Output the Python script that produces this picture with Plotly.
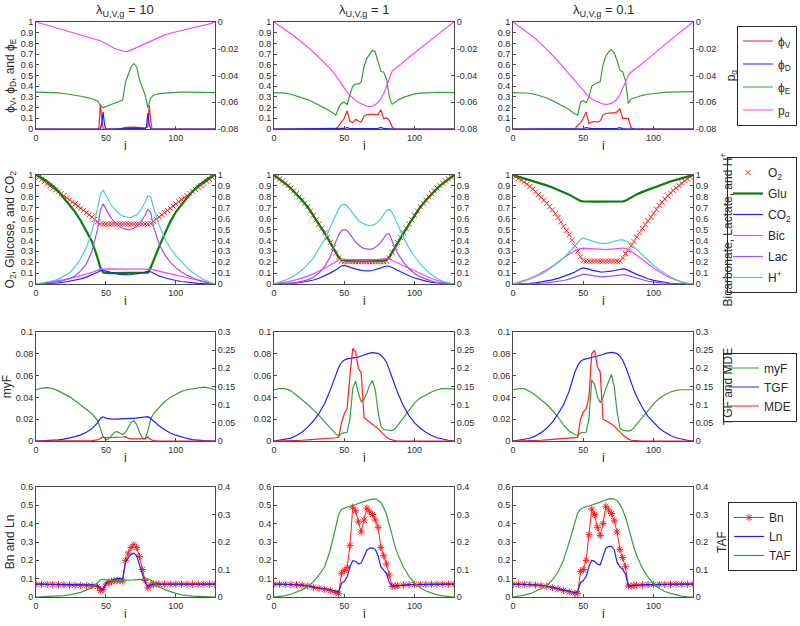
import plotly.graph_objects as go

# ------------------------------------------------------------------ data
X = [0, 4, 8, 12, 16, 20, 24, 28, 32, 36, 40, 44,
     46, 48, 50, 52, 54, 56, 58, 60, 62, 64, 66, 68, 70, 72, 74, 76, 78, 80, 82, 84, 86, 88,
     92, 96, 100, 104, 108, 112, 116, 120, 124, 128]
X2 = [0, 2, 4, 6, 8, 10, 12, 14, 16, 18, 20, 22, 24, 26, 28, 30, 32, 34, 36, 38, 40, 42, 44,
      46, 48, 50, 52, 54, 56, 58, 60, 62, 64, 66, 68, 70, 72, 74, 76, 78, 80,
      82, 84, 86, 88, 90, 92, 94, 96, 98, 100, 102, 104, 106, 108, 110, 112, 114, 116, 118, 120, 122, 124, 126, 128]

# row 1 : phi_V, phi_D, phi_E (left)  p_alpha (right)
phiV1_x = [0, 44, 45, 46, 47, 48, 50, 60, 62, 64, 70, 76, 78, 80, 81, 82, 83, 86, 128]
phiV1 = [0, 0, 0.01, 0.23, 0.1, 0, 0, 0, 0.008, 0.015, 0.018, 0.015, 0.008, 0.02, 0.22, 0.08, 0, 0, 0]
phiD1_x = [0, 46, 47, 48, 49, 50, 52, 60, 64, 70, 76, 78, 79, 80, 81, 82, 128]
phiD1 = [0, 0, 0.05, 0.16, 0.04, 0, 0, 0.004, 0.008, 0.01, 0.008, 0.004, 0.02, 0.15, 0.04, 0, 0]
phiE1 = [0.345, 0.345, 0.344, 0.342, 0.338, 0.332, 0.325, 0.316, 0.306, 0.296, 0.283, 0.262,
         0.22, 0.2, 0.21, 0.215, 0.23, 0.24, 0.245, 0.255, 0.27, 0.44, 0.52, 0.58, 0.61, 0.58, 0.46, 0.39, 0.32, 0.2, 0.29, 0.315, 0.325, 0.33,
         0.335, 0.34, 0.342, 0.344, 0.345, 0.345, 0.345, 0.345, 0.343, 0.34]
pa1 = [0, -0.0012, -0.0024, -0.0036, -0.0048, -0.006, -0.0072, -0.0084, -0.0096, -0.0108, -0.012, -0.0132,
       -0.014, -0.0152, -0.0164, -0.0176, -0.0188, -0.0196, -0.0204, -0.0212, -0.0218, -0.022, -0.0218, -0.021, -0.02, -0.019, -0.018, -0.017, -0.016, -0.015, -0.014, -0.013, -0.012, -0.011,
       -0.0096, -0.0084, -0.0074, -0.0064, -0.0056, -0.0048, -0.0038, -0.0028, -0.0014, 0]

phiV2 = [0, 0, 0, 0, 0, 0, 0, 0, 0, 0, 0, 0,
         0.03, 0.06, 0.1, 0.17, 0.07, 0.06, 0.09, 0.075, 0.065, 0.12, 0.135, 0.135, 0.14, 0.135, 0.135, 0.18, 0.095, 0.105, 0.08, 0.02, 0, 0,
         0, 0, 0, 0, 0, 0, 0, 0, 0, 0]
phiD2 = [0, 0, 0, 0, 0, 0, 0, 0, 0, 0, 0, 0,
         0, 0.002, 0.005, 0.012, 0.004, 0.004, 0.004, 0.004, 0.004, 0.004, 0.004, 0.004, 0.004, 0.004, 0.006, 0.015, 0.004, 0.003, 0, 0, 0, 0,
         0, 0, 0, 0, 0, 0, 0, 0, 0, 0]
phiE2 = [0.34, 0.34, 0.335, 0.325, 0.31, 0.295, 0.275, 0.25, 0.225, 0.195, 0.165, 0.13,
         0.2, 0.24, 0.25, 0.23, 0.32, 0.4, 0.42, 0.42, 0.44, 0.58, 0.66, 0.7, 0.735, 0.72, 0.64, 0.54, 0.53, 0.47, 0.3, 0.23, 0.25, 0.27,
         0.295, 0.315, 0.328, 0.335, 0.34, 0.342, 0.343, 0.343, 0.342, 0.34]
pa2 = [0, -0.0028, -0.0058, -0.0088, -0.012, -0.0152, -0.0188, -0.0224, -0.0264, -0.0304, -0.0348, -0.04,
       -0.0432, -0.0464, -0.0496, -0.0524, -0.0548, -0.0568, -0.0586, -0.06, -0.0612, -0.0622, -0.063, -0.0632, -0.0628, -0.0618, -0.06, -0.0572, -0.0536, -0.048, -0.0416, -0.0368, -0.0352, -0.0336,
       -0.03, -0.0264, -0.0232, -0.0198, -0.0165, -0.0131, -0.0098, -0.0064, -0.0032, 0]

phiV3 = [0, 0, 0, 0, 0, 0, 0, 0, 0, 0, 0, 0,
         0.035, 0.055, 0.1, 0.16, 0.05, 0.065, 0.07, 0.065, 0.075, 0.13, 0.145, 0.15, 0.15, 0.15, 0.16, 0.19, 0.1, 0.1, 0.1, 0.01, 0, 0,
         0, 0, 0, 0, 0, 0, 0, 0, 0, 0]
phiD3 = [0, 0, 0, 0, 0, 0, 0, 0, 0, 0, 0, 0,
         0, 0.002, 0.004, 0.012, 0.004, 0.003, 0.003, 0.003, 0.003, 0.003, 0.003, 0.003, 0.003, 0.003, 0.006, 0.012, 0.003, 0.002, 0, 0, 0, 0,
         0, 0, 0, 0, 0, 0, 0, 0, 0, 0]
phiE3 = [0.34, 0.34, 0.338, 0.334, 0.322, 0.305, 0.29, 0.265, 0.24, 0.21, 0.18, 0.14,
         0.13, 0.25, 0.265, 0.245, 0.3, 0.4, 0.42, 0.43, 0.44, 0.6, 0.68, 0.72, 0.74, 0.71, 0.64, 0.55, 0.535, 0.45, 0.24, 0.28, 0.29, 0.3,
         0.315, 0.325, 0.332, 0.338, 0.342, 0.344, 0.346, 0.347, 0.348, 0.35]
pa3 = [0, -0.003, -0.0059, -0.0088, -0.0124, -0.0164, -0.0204, -0.0248, -0.0292, -0.034, -0.0392, -0.044,
       -0.0468, -0.0492, -0.0516, -0.054, -0.056, -0.0576, -0.0588, -0.0598, -0.0606, -0.0612, -0.0616, -0.0614, -0.0608, -0.0596, -0.0576, -0.0544, -0.05, -0.0448, -0.0396, -0.0372, -0.0356, -0.0344,
       -0.0312, -0.0276, -0.024, -0.0204, -0.0168, -0.0132, -0.01, -0.0068, -0.0034, 0]

# row 2 : O2 (left, on X2), Glu, CO2 (left)  Bic, Lac, H+ (right)
O2_1 = [1.0, 0.98, 0.96, 0.94, 0.92, 0.9, 0.88, 0.862, 0.845, 0.828, 0.81, 0.79, 0.77, 0.752, 0.735, 0.715, 0.695, 0.675, 0.655, 0.635, 0.615, 0.592, 0.57,
        0.55, 0.55, 0.55, 0.55, 0.55, 0.55, 0.55, 0.55, 0.55, 0.55, 0.55, 0.55, 0.55, 0.55, 0.55, 0.55, 0.55, 0.55,
        0.555, 0.575, 0.595, 0.615, 0.635, 0.655, 0.675, 0.695, 0.715, 0.735, 0.755, 0.775, 0.792, 0.81, 0.83, 0.85, 0.868, 0.885, 0.905, 0.925, 0.942, 0.96, 0.98, 1.0]
O2_2 = [1.0, 0.983, 0.965, 0.945, 0.925, 0.903, 0.88, 0.856, 0.83, 0.8, 0.77, 0.74, 0.71, 0.67, 0.63, 0.59, 0.55, 0.51, 0.47, 0.425, 0.38, 0.332, 0.285, 0.24, 0.21,
        0.205, 0.205, 0.205, 0.205, 0.205, 0.205, 0.205, 0.205, 0.205, 0.205, 0.205, 0.205, 0.205, 0.205, 0.205,
        0.21, 0.24, 0.29, 0.335, 0.38, 0.425, 0.47, 0.51, 0.55, 0.59, 0.63, 0.67, 0.71, 0.74, 0.77, 0.8, 0.83, 0.856, 0.88, 0.903, 0.925, 0.945, 0.965, 0.983, 1.0]
O2_3 = [1.0, 0.985, 0.97, 0.953, 0.935, 0.915, 0.895, 0.87, 0.845, 0.82, 0.795, 0.768, 0.74, 0.71, 0.68, 0.645, 0.61, 0.57, 0.53, 0.49, 0.45, 0.4, 0.35, 0.3, 0.25, 0.215,
        0.21, 0.21, 0.21, 0.21, 0.21, 0.21, 0.21, 0.21, 0.21, 0.21, 0.21, 0.21, 0.21,
        0.24, 0.28, 0.31, 0.35, 0.39, 0.43, 0.47, 0.51, 0.545, 0.58, 0.615, 0.65, 0.685, 0.72, 0.75, 0.78, 0.808, 0.835, 0.858, 0.88, 0.903, 0.925, 0.945, 0.965, 0.983, 1.0]

Glu_1 = [1.0, 0.975, 0.94, 0.9, 0.85, 0.79, 0.73, 0.66, 0.58, 0.49, 0.39, 0.24,
         0.15, 0.105, 0.1, 0.1, 0.1, 0.1, 0.1, 0.1, 0.1, 0.1, 0.1, 0.1, 0.1, 0.1, 0.1, 0.1, 0.1, 0.105, 0.15, 0.22, 0.28, 0.34,
         0.46, 0.57, 0.66, 0.73, 0.79, 0.85, 0.9, 0.94, 0.975, 1.0]
CO2_1 = [0, 0.001, 0.003, 0.006, 0.01, 0.016, 0.024, 0.034, 0.047, 0.063, 0.083, 0.108,
         0.122, 0.124, 0.118, 0.11, 0.103, 0.097, 0.092, 0.088, 0.086, 0.085, 0.085, 0.087, 0.089, 0.093, 0.097, 0.103, 0.109, 0.115, 0.112, 0.098, 0.085, 0.074,
         0.057, 0.043, 0.032, 0.023, 0.016, 0.01, 0.006, 0.003, 0.001, 0]
Bic_1 = [0, 0.007, 0.014, 0.022, 0.03, 0.04, 0.05, 0.062, 0.075, 0.09, 0.107, 0.127,
         0.136, 0.139, 0.138, 0.137, 0.137, 0.137, 0.137, 0.137, 0.137, 0.137, 0.137, 0.137, 0.137, 0.137, 0.137, 0.137, 0.137, 0.138, 0.136, 0.13, 0.124, 0.118,
         0.106, 0.094, 0.082, 0.07, 0.058, 0.046, 0.034, 0.022, 0.011, 0]
Lac_1 = [0, 0.004, 0.008, 0.014, 0.022, 0.033, 0.05, 0.075, 0.12, 0.185, 0.3, 0.5,
         0.68, 0.735, 0.69, 0.64, 0.6, 0.57, 0.545, 0.525, 0.51, 0.5, 0.497, 0.5, 0.51, 0.525, 0.55, 0.585, 0.63, 0.685, 0.66, 0.53, 0.44, 0.37,
         0.27, 0.2, 0.15, 0.11, 0.08, 0.055, 0.035, 0.02, 0.008, 0]
H_1 = [0, 0.008, 0.016, 0.028, 0.045, 0.07, 0.1, 0.16, 0.235, 0.33, 0.48, 0.69,
       0.82, 0.86, 0.81, 0.76, 0.72, 0.69, 0.66, 0.64, 0.625, 0.615, 0.61, 0.612, 0.62, 0.635, 0.66, 0.7, 0.75, 0.81, 0.8, 0.7, 0.61, 0.54,
       0.42, 0.33, 0.26, 0.2, 0.15, 0.105, 0.07, 0.04, 0.018, 0]

Glu_2 = [1.0, 0.963, 0.922, 0.877, 0.827, 0.768, 0.706, 0.628, 0.548, 0.468, 0.378, 0.285,
         0.245, 0.222, 0.215, 0.215, 0.215, 0.215, 0.215, 0.215, 0.215, 0.215, 0.215, 0.215, 0.215, 0.215, 0.215, 0.215, 0.215, 0.222, 0.245, 0.29, 0.335, 0.378,
         0.468, 0.548, 0.628, 0.706, 0.768, 0.827, 0.877, 0.922, 0.963, 1.0]
CO2_2 = [0, 0.001, 0.003, 0.006, 0.01, 0.016, 0.025, 0.037, 0.053, 0.075, 0.1, 0.13,
         0.15, 0.165, 0.17, 0.165, 0.155, 0.145, 0.137, 0.13, 0.125, 0.122, 0.12, 0.121, 0.124, 0.13, 0.138, 0.148, 0.158, 0.165, 0.163, 0.15, 0.137, 0.123,
         0.098, 0.075, 0.055, 0.039, 0.026, 0.016, 0.009, 0.004, 0.001, 0]
Bic_2 = [0, 0.008, 0.017, 0.027, 0.04, 0.055, 0.072, 0.093, 0.117, 0.145, 0.175, 0.205,
         0.218, 0.227, 0.228, 0.226, 0.223, 0.221, 0.22, 0.219, 0.218, 0.218, 0.218, 0.219, 0.22, 0.222, 0.224, 0.227, 0.23, 0.232, 0.228, 0.215, 0.203, 0.19,
         0.165, 0.14, 0.115, 0.092, 0.07, 0.05, 0.033, 0.018, 0.007, 0]
Lac_2 = [0, 0.001, 0.003, 0.006, 0.012, 0.022, 0.038, 0.062, 0.1, 0.16, 0.25, 0.39,
         0.45, 0.49, 0.5, 0.49, 0.46, 0.42, 0.385, 0.36, 0.34, 0.325, 0.318, 0.317, 0.322, 0.335, 0.355, 0.385, 0.42, 0.455, 0.46, 0.39, 0.33, 0.28,
         0.2, 0.14, 0.095, 0.065, 0.042, 0.026, 0.014, 0.006, 0.002, 0]
H_2 = [0, 0.015, 0.035, 0.06, 0.09, 0.13, 0.18, 0.24, 0.32, 0.41, 0.52, 0.64,
       0.69, 0.725, 0.73, 0.715, 0.68, 0.645, 0.61, 0.585, 0.565, 0.55, 0.54, 0.537, 0.54, 0.55, 0.57, 0.6, 0.64, 0.675, 0.685, 0.655, 0.6, 0.54,
       0.43, 0.33, 0.25, 0.185, 0.13, 0.085, 0.05, 0.025, 0.009, 0]

Glu_3 = [1.0, 0.985, 0.97, 0.955, 0.94, 0.922, 0.905, 0.885, 0.865, 0.845, 0.82, 0.79,
         0.775, 0.762, 0.757, 0.755, 0.755, 0.755, 0.755, 0.755, 0.755, 0.755, 0.755, 0.755, 0.755, 0.755, 0.755, 0.755, 0.757, 0.765, 0.78, 0.795, 0.81, 0.822,
         0.845, 0.865, 0.885, 0.905, 0.922, 0.94, 0.955, 0.97, 0.985, 1.0]
CO2_3 = [0, 0.001, 0.003, 0.006, 0.011, 0.018, 0.027, 0.038, 0.052, 0.068, 0.088, 0.11,
         0.125, 0.14, 0.147, 0.144, 0.137, 0.128, 0.12, 0.115, 0.111, 0.11, 0.111, 0.114, 0.118, 0.124, 0.13, 0.136, 0.139, 0.136, 0.126, 0.113, 0.1, 0.088,
         0.066, 0.048, 0.033, 0.022, 0.013, 0.007, 0.003, 0.001, 0, 0]
Bic_3 = [0, 0.015, 0.032, 0.05, 0.073, 0.1, 0.13, 0.163, 0.2, 0.24, 0.275, 0.305,
         0.318, 0.327, 0.33, 0.328, 0.325, 0.322, 0.319, 0.317, 0.316, 0.315, 0.316, 0.318, 0.321, 0.325, 0.328, 0.33, 0.33, 0.325, 0.315, 0.3, 0.283, 0.265,
         0.225, 0.185, 0.145, 0.11, 0.08, 0.055, 0.033, 0.016, 0.005, 0]
Lac_3 = [0, 0.0005, 0.001, 0.002, 0.004, 0.007, 0.011, 0.016, 0.023, 0.032, 0.045, 0.065,
         0.077, 0.087, 0.09, 0.088, 0.083, 0.077, 0.072, 0.068, 0.066, 0.065, 0.066, 0.068, 0.071, 0.075, 0.079, 0.083, 0.085, 0.083, 0.076, 0.067, 0.058, 0.05,
         0.036, 0.025, 0.017, 0.011, 0.007, 0.004, 0.002, 0.001, 0, 0]
H_3 = [0, 0.012, 0.025, 0.045, 0.065, 0.09, 0.12, 0.155, 0.195, 0.24, 0.29, 0.345,
       0.38, 0.41, 0.42, 0.415, 0.405, 0.395, 0.385, 0.377, 0.372, 0.37, 0.372, 0.377, 0.385, 0.393, 0.4, 0.405, 0.405, 0.398, 0.385, 0.365, 0.34, 0.315,
       0.265, 0.215, 0.17, 0.13, 0.095, 0.065, 0.04, 0.02, 0.008, 0]

# row 3 : myF (left)  TGF, MDE (right)
myF_1 = [0.047, 0.0485, 0.049, 0.048, 0.046, 0.0435, 0.0405, 0.037, 0.033, 0.029, 0.025, 0.019,
         0.012, 0.004, 0.001, 0.002, 0.005, 0.008, 0.0085, 0.007, 0.006, 0.008, 0.012, 0.017, 0.0185, 0.015, 0.008, 0.003, 0.002, 0.009, 0.02, 0.025, 0.028, 0.031,
         0.036, 0.04, 0.043, 0.0455, 0.047, 0.048, 0.049, 0.0495, 0.0485, 0.047]
TGF_1 = [0, 0.0003, 0.001, 0.002, 0.003, 0.005, 0.008, 0.012, 0.017, 0.024, 0.034, 0.05,
         0.062, 0.066, 0.063, 0.061, 0.06, 0.06, 0.06, 0.06, 0.0605, 0.061, 0.0615, 0.062, 0.0625, 0.063, 0.064, 0.065, 0.066, 0.067, 0.062, 0.055, 0.048, 0.042,
         0.031, 0.022, 0.016, 0.011, 0.007, 0.004, 0.002, 0.001, 0.0005, 0]
MDE_1 = [0, 0.0005, 0.0005, 0.0005, 0.0005, 0.0005, 0.0005, 0.0005, 0.001, 0.001, 0.001, 0.003,
         0.008, 0.011, 0.009, 0.009, 0.009, 0.01, 0.01, 0.01, 0.011, 0.012, 0.007, 0.006, 0.006, 0.006, 0.005, 0.005, 0.006, 0.011, 0.004, 0.001, 0, 0,
         0, 0, 0, 0, 0, 0, 0, 0, 0, 0]

myF_2 = [0.047, 0.048, 0.048, 0.046, 0.042, 0.038, 0.0335, 0.0285, 0.0235, 0.0175, 0.0115, 0.0065,
         0.0045, 0.007, 0.0075, 0.008, 0.02, 0.048, 0.055, 0.044, 0.036, 0.038, 0.044, 0.051, 0.0555, 0.047, 0.027, 0.014, 0.0105, 0.0103, 0.0098, 0.0095, 0.011, 0.0145,
         0.021, 0.029, 0.035, 0.0395, 0.0425, 0.045, 0.047, 0.048, 0.048, 0.0475]
TGF_2 = [0, 0.002, 0.004, 0.008, 0.015, 0.025, 0.038, 0.055, 0.076, 0.103, 0.14, 0.183,
         0.203, 0.216, 0.223, 0.226, 0.227, 0.228, 0.229, 0.231, 0.234, 0.237, 0.24, 0.242, 0.243, 0.243, 0.241, 0.236, 0.228, 0.217, 0.198, 0.175, 0.153, 0.132,
         0.097, 0.07, 0.05, 0.035, 0.024, 0.015, 0.009, 0.005, 0.002, 0]
MDE_2 = [0, 0, 0.0005, 0.001, 0.0015, 0.002, 0.003, 0.004, 0.005, 0.006, 0.008, 0.009,
         0.011, 0.05, 0.075, 0.09, 0.18, 0.255, 0.245, 0.2, 0.188, 0.065, 0.058, 0.052, 0.047, 0.042, 0.034, 0.026, 0.017, 0.01, 0.005, 0.002, 0.001, 0,
         0, 0, 0, 0, 0, 0, 0, 0, 0, 0]

myF_3 = [0.047, 0.048, 0.048, 0.0455, 0.042, 0.038, 0.0335, 0.028, 0.022, 0.0145, 0.009, 0.006,
         0.005, 0.0075, 0.008, 0.008, 0.02, 0.056, 0.052, 0.041, 0.035, 0.04, 0.048, 0.055, 0.061, 0.05, 0.027, 0.012, 0.0098, 0.0095, 0.009, 0.01, 0.012, 0.0155,
         0.022, 0.0285, 0.034, 0.039, 0.0425, 0.045, 0.0465, 0.047, 0.047, 0.047]
TGF_3 = [0, 0.002, 0.004, 0.0075, 0.014, 0.023, 0.035, 0.052, 0.075, 0.1, 0.138, 0.19,
         0.207, 0.219, 0.224, 0.226, 0.227, 0.228, 0.23, 0.232, 0.235, 0.238, 0.241, 0.243, 0.244, 0.243, 0.24, 0.234, 0.222, 0.205, 0.182, 0.16, 0.14, 0.122,
         0.092, 0.068, 0.05, 0.035, 0.024, 0.015, 0.009, 0.005, 0.002, 0]
MDE_3 = [0, 0, 0.0005, 0.001, 0.0015, 0.002, 0.003, 0.004, 0.005, 0.006, 0.008, 0.009,
         0.01, 0.06, 0.08, 0.088, 0.12, 0.24, 0.25, 0.205, 0.19, 0.06, 0.056, 0.051, 0.047, 0.041, 0.034, 0.026, 0.017, 0.01, 0.005, 0.002, 0.001, 0,
         0, 0, 0, 0, 0, 0, 0, 0, 0, 0]

# row 4 : Bn, Ln (left)  TAF (right)
Bn_1 = [0.07, 0.07, 0.069, 0.068, 0.067, 0.066, 0.065, 0.064, 0.063, 0.062, 0.061, 0.058,
        0.035, 0.04, 0.07, 0.08, 0.085, 0.088, 0.09, 0.09, 0.087, 0.2, 0.24, 0.27, 0.285, 0.27, 0.22, 0.15, 0.09, 0.05, 0.065, 0.07, 0.07, 0.07,
        0.07, 0.07, 0.07, 0.07, 0.07, 0.07, 0.07, 0.07, 0.07, 0.07]
Ln_1 = [0.07, 0.07, 0.07, 0.069, 0.069, 0.068, 0.068, 0.067, 0.067, 0.066, 0.066, 0.064,
        0.045, 0.04, 0.075, 0.085, 0.092, 0.097, 0.1, 0.1, 0.1, 0.19, 0.215, 0.232, 0.24, 0.225, 0.18, 0.125, 0.08, 0.058, 0.068, 0.07, 0.07, 0.07,
        0.07, 0.07, 0.07, 0.07, 0.07, 0.07, 0.07, 0.07, 0.07, 0.07]
TAF_1 = [0, 0.0005, 0.001, 0.002, 0.003, 0.005, 0.008, 0.012, 0.017, 0.025, 0.035, 0.052,
         0.062, 0.064, 0.062, 0.061, 0.06, 0.06, 0.06, 0.06, 0.06, 0.061, 0.061, 0.062, 0.062, 0.063, 0.063, 0.064, 0.065, 0.066, 0.062, 0.052, 0.044, 0.037,
         0.027, 0.019, 0.013, 0.008, 0.005, 0.003, 0.002, 0.001, 0.0005, 0]

Bn_2 = [0.07, 0.07, 0.069, 0.068, 0.067, 0.065, 0.06, 0.053, 0.047, 0.042, 0.035, 0.025,
        0.018, 0.13, 0.145, 0.16, 0.28, 0.49, 0.47, 0.41, 0.355, 0.42, 0.485, 0.465, 0.45, 0.42, 0.38, 0.27, 0.225, 0.18, 0.12, 0.058, 0.06, 0.062,
        0.065, 0.067, 0.068, 0.069, 0.069, 0.07, 0.07, 0.07, 0.07, 0.07]
Ln_2 = [0.07, 0.07, 0.069, 0.068, 0.067, 0.065, 0.061, 0.056, 0.05, 0.045, 0.04, 0.032,
        0.027, 0.075, 0.085, 0.11, 0.165, 0.198, 0.195, 0.18, 0.185, 0.22, 0.255, 0.267, 0.268, 0.26, 0.225, 0.165, 0.148, 0.128, 0.08, 0.058, 0.06, 0.062,
        0.065, 0.067, 0.068, 0.069, 0.069, 0.07, 0.07, 0.07, 0.07, 0.07]
TAF_2 = [0, 0.002, 0.005, 0.01, 0.017, 0.026, 0.038, 0.055, 0.08, 0.11, 0.17, 0.26,
         0.3, 0.318, 0.324, 0.327, 0.329, 0.332, 0.335, 0.339, 0.343, 0.347, 0.351, 0.355, 0.357, 0.356, 0.352, 0.343, 0.325, 0.3, 0.265, 0.225, 0.185, 0.155,
         0.11, 0.075, 0.05, 0.034, 0.022, 0.014, 0.008, 0.004, 0.0015, 0]

Bn_3 = [0.07, 0.07, 0.069, 0.068, 0.065, 0.062, 0.058, 0.051, 0.044, 0.036, 0.028, 0.02,
        0.02, 0.14, 0.15, 0.2, 0.34, 0.48, 0.45, 0.38, 0.335, 0.4, 0.495, 0.475, 0.455, 0.415, 0.355, 0.26, 0.215, 0.165, 0.06, 0.06, 0.063, 0.065,
        0.066, 0.067, 0.068, 0.069, 0.069, 0.07, 0.07, 0.07, 0.07, 0.07]
Ln_3 = [0.07, 0.07, 0.069, 0.068, 0.066, 0.063, 0.059, 0.053, 0.046, 0.039, 0.032, 0.024,
        0.03, 0.078, 0.09, 0.112, 0.165, 0.2, 0.195, 0.18, 0.175, 0.218, 0.265, 0.275, 0.276, 0.258, 0.19, 0.165, 0.15, 0.125, 0.06, 0.062, 0.064, 0.065,
        0.066, 0.067, 0.068, 0.069, 0.069, 0.07, 0.07, 0.07, 0.07, 0.07]
TAF_3 = [0, 0.003, 0.007, 0.012, 0.02, 0.03, 0.042, 0.062, 0.09, 0.135, 0.2, 0.275,
         0.305, 0.32, 0.326, 0.329, 0.331, 0.334, 0.337, 0.341, 0.345, 0.349, 0.353, 0.357, 0.358, 0.356, 0.35, 0.337, 0.317, 0.29, 0.255, 0.215, 0.18, 0.15,
         0.105, 0.072, 0.048, 0.031, 0.02, 0.013, 0.007, 0.003, 0.001, 0]

# ticks
X_TICKS = [0, 50, 100]
T01 = [0, 0.1, 0.2, 0.3, 0.4, 0.5, 0.6, 0.7, 0.8, 0.9, 1]
T01_TXT = ["0", "0.1", "0.2", "0.3", "0.4", "0.5", "0.6", "0.7", "0.8", "0.9", "1"]
TPA = [-0.08, -0.06, -0.04, -0.02, 0]
TPA_TXT = ["-0.08", "-0.06", "-0.04", "-0.02", "0"]
TMYF = [0, 0.02, 0.04, 0.06, 0.08, 0.1]
TMYF_TXT = ["0", "0.02", "0.04", "0.06", "0.08", "0.1"]
TTGF = [0, 0.05, 0.1, 0.15, 0.2, 0.25, 0.3]
TTGF_TXT = ["0", "0.05", "0.1", "0.15", "0.2", "0.25", "0.3"]
TBN = [0, 0.1, 0.2, 0.3, 0.4, 0.5, 0.6]
TBN_TXT = ["0", "0.1", "0.2", "0.3", "0.4", "0.5", "0.6"]
TTAF = [0, 0.1, 0.2, 0.3, 0.4]
TTAF_TXT = ["0", "0.1", "0.2", "0.3", "0.4"]

LAMBDAS = ["10", "1", "0.1"]

# ------------------------------------------------------------------ style
FONT = "Liberation Sans, Arial, Helvetica, sans-serif"
RED, BLUE, GREEN = "#ff1f1f", "#2020ff", "#36a036"
MAG, CYAN, PURP, DGREEN = "#ff40ff", "#45cfcf", "#a050f5", "#0b7d0b"
AXC, TXT = "#4a4a4a", "#2b2b2b"
W, H = 800, 626
COL_PX = [(36, 215), (274, 454), (513, 693)]
ROW_PX = [(22, 129), (175, 284), (332, 441), (487, 597)]

PHI = "\u03d5"
rows = [
    dict(lr=[0, 1], lt=(T01, T01_TXT), rr=[-0.08, 0], rt=(TPA, TPA_TXT),
         ylab=PHI + "<sub>V</sub>, " + PHI + "<sub>D</sub>, and " + PHI + "<sub>E</sub>", ylw=110, ytitle=False,
         rlab="p<sub>\u03b1</sub>", rlw=30, rlabx=731, legend="legend", gap=4, series=[
            (PHI + "<sub>V</sub>", [phiV1_x, X, X], [phiV1, phiV2, phiV3], "L", RED, 1.2, None),
            (PHI + "<sub>D</sub>", [phiD1_x, X, X], [phiD1, phiD2, phiD3], "L", BLUE, 1.2, None),
            (PHI + "<sub>E</sub>", [X, X, X], [phiE1, phiE2, phiE3], "L", GREEN, 1.2, None),
            ("p<sub>\u03b1</sub>", [X, X, X], [pa1, pa2, pa3], "R", MAG, 1.2, None)]),
    dict(lr=[0, 1], lt=(T01, T01_TXT), rr=[0, 1], rt=(T01, T01_TXT),
         ylab="O<sub>2</sub>, Glucose, and CO<sub>2</sub>", ylw=140, ytitle=False,
         rlab="Bicarbonate, Lactate, and H<sup>+</sup>", rlw=180, rlabx=726, legend="legend2", gap=2, series=[
            ("O<sub>2</sub>", [X2, X2, X2], [O2_1, O2_2, O2_3], "L", RED, 1.0, "x"),
            ("Glu", [X, X, X], [Glu_1, Glu_2, Glu_3], "L", DGREEN, 2.2, None),
            ("CO<sub>2</sub>", [X, X, X], [CO2_1, CO2_2, CO2_3], "L", BLUE, 1.2, None),
            ("Bic", [X, X, X], [Bic_1, Bic_2, Bic_3], "R", MAG, 1.2, None),
            ("Lac", [X, X, X], [Lac_1, Lac_2, Lac_3], "R", PURP, 1.2, None),
            ("H<sup>+</sup>", [X, X, X], [H_1, H_2, H_3], "R", CYAN, 1.2, None)]),
    dict(lr=[0, 0.1], lt=(TMYF, TMYF_TXT), rr=[0, 0.3], rt=(TTGF, TTGF_TXT),
         ylab="myF", ylw=40, ytitle=True, rlab="TGF and MDE", rlw=90, rlabx=727, legend="legend3", gap=0, series=[
            ("myF", [X, X, X], [myF_1, myF_2, myF_3], "L", GREEN, 1.2, None),
            ("TGF", [X, X, X], [TGF_1, TGF_2, TGF_3], "R", BLUE, 1.2, None),
            ("MDE", [X, X, X], [MDE_1, MDE_2, MDE_3], "R", RED, 1.2, None)]),
    dict(lr=[0, 0.6], lt=(TBN, TBN_TXT), rr=[0, 0.4], rt=(TTAF, TTAF_TXT),
         ylab="Bn and Ln", ylw=70, ytitle=False, rlab="TAF", rlw=40, rlabx=722, legend="legend4", gap=0, series=[
            ("Bn", [X, X, X], [Bn_1, Bn_2, Bn_3], "L", RED, 1.0, "star"),
            ("Ln", [X, X, X], [Ln_1, Ln_2, Ln_3], "L", BLUE, 1.2, None),
            ("TAF", [X, X, X], [TAF_1, TAF_2, TAF_3], "R", GREEN, 1.2, None)]),
]
LEG_Y = [75.5, 225, 387, 536.5]

fig = go.Figure()
layout = {}
annotations = []
tickfont = dict(family=FONT, size=9, color=TXT)
labfont = dict(family=FONT, size=12, color=TXT)


def nm(prefix, k):
    return prefix if k == 1 else f"{prefix}{k}"


def ann(text, xpx, ypx, size=12, angle=0, width=None, xanchor="center"):
    d = dict(text=text, x=xpx / W, y=1 - ypx / H, xref="paper", yref="paper",
             xanchor=xanchor, yanchor="middle", showarrow=False, textangle=angle,
             align="center", font=dict(family=FONT, size=size, color=TXT))
    if width is not None:
        d.update(width=width, height=18)
    return d


for r, row in enumerate(rows):
    y0, y1 = ROW_PX[r]
    ydom = [1 - y1 / H, 1 - y0 / H]
    for c in range(3):
        x0, x1 = COL_PX[c]
        n = r * 3 + c + 1
        ly, ry = 2 * n - 1, 2 * n
        layout[nm("xaxis", n)] = dict(
            domain=[x0 / W, x1 / W], anchor=nm("y", ly), range=[0, 128],
            tickvals=X_TICKS, ticks="inside", ticklen=3, tickcolor=AXC,
            showline=True, linecolor=AXC, linewidth=1, mirror=True,
            showgrid=False, zeroline=False, tickfont=tickfont, automargin=False)
        layout[nm("yaxis", ly)] = dict(
            domain=ydom, anchor=nm("x", n), range=row["lr"],
            tickvals=row["lt"][0], ticktext=row["lt"][1], ticks="inside", ticklen=3,
            tickcolor=AXC, showline=True, linecolor=AXC, linewidth=1,
            showgrid=False, zeroline=False, tickfont=tickfont, automargin=False)
        if c == 0 and row["ytitle"]:
            layout[nm("yaxis", ly)]["title"] = dict(text=row["ylab"], font=labfont, standoff=3)
        layout[nm("yaxis", ry)] = dict(
            overlaying=nm("y", ly), anchor=nm("x", n), side="right", range=row["rr"],
            tickvals=row["rt"][0], ticktext=row["rt"][1], ticks="inside", ticklen=3,
            tickcolor=AXC, showline=True, linecolor=AXC, linewidth=1,
            showgrid=False, zeroline=False, tickfont=tickfont, automargin=False)

        for (name, xs, ys, side, color, width, mk) in row["series"]:
            kw = dict(x=xs[c], y=ys[c], name=name, xaxis=nm("x", n),
                      yaxis=nm("y", ly if side == "L" else ry),
                      legend=row["legend"], legendgroup=f"{r}-{name}",
                      showlegend=(c == 2), hoverinfo="skip")
            if mk == "x":
                kw.update(mode="markers",
                          marker=dict(symbol="x-thin-open", size=5, color=color,
                                      line=dict(color=color, width=1)))
            elif mk == "star":
                kw.update(mode="lines+markers", line=dict(color=color, width=width),
                          marker=dict(symbol="asterisk-open", size=6, color=color,
                                      line=dict(color=color, width=1)))
            else:
                kw.update(mode="lines", line=dict(color=color, width=width))
            fig.add_trace(go.Scatter(**kw))

        annotations.append(ann("i", (x0 + x1) / 2, y1 + 17))
    if not row["ytitle"]:
        annotations.append(ann(row["ylab"], 10, (y0 + y1) / 2, angle=-90, width=row["ylw"]))
    annotations.append(ann(row["rlab"], row["rlabx"], (y0 + y1) / 2, angle=-90, width=row["rlw"]))

    layout[row["legend"]] = dict(
        xanchor="right", x=797 / W, yanchor="middle", y=1 - LEG_Y[r] / H,
        bgcolor="white", bordercolor="#262626", borderwidth=1, itemwidth=30,
        traceorder="grouped", tracegroupgap=row["gap"],
        font=dict(family=FONT, size=12, color=TXT))

for c, lam in enumerate(LAMBDAS):
    x0, x1 = COL_PX[c]
    annotations.append(ann("\u03bb<sub>U,V,g</sub> = " + lam, (x0 + x1) / 2, 11, size=13))

fig.update_layout(width=W, height=H, margin=dict(l=0, r=0, t=0, b=0),
                  paper_bgcolor="white", plot_bgcolor="white",
                  annotations=annotations, **layout)
fig.write_html("out.html", config={"displayModeBar": False},
               post_script="document.body.style.margin='0px';")
